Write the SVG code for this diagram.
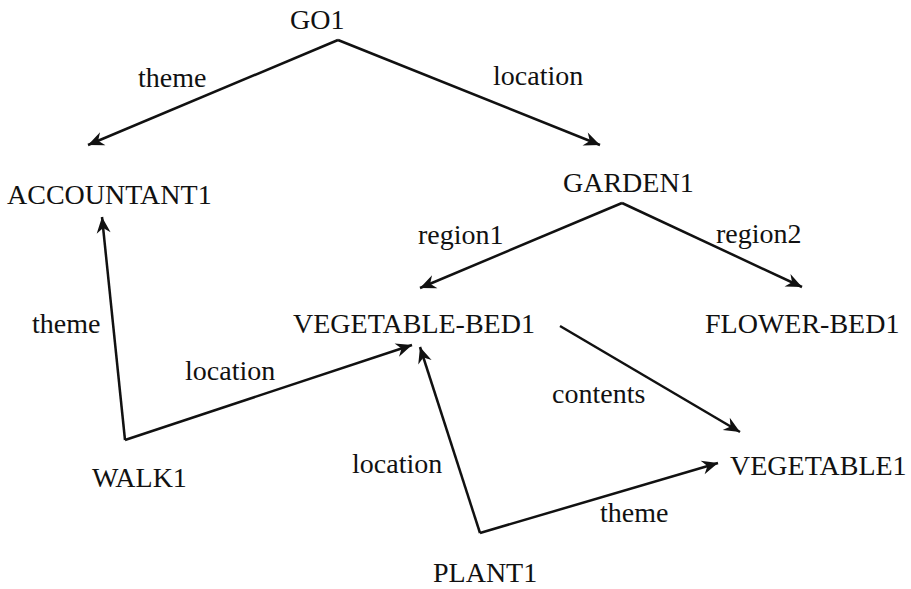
<svg xmlns="http://www.w3.org/2000/svg" width="911" height="589" viewBox="0 0 911 589">
<defs>
<style>
text{font-family:"Liberation Serif","Times New Roman",serif;font-size:28px;fill:#111}
.c{fill:none;stroke:#111;stroke-width:2.5;stroke-linejoin:miter}
</style>
<marker id="ah" viewBox="-17 -8 19 16" markerWidth="19" markerHeight="16" refX="0" refY="0" orient="auto" markerUnits="userSpaceOnUse">
<path d="M0,0 L-16,-7 L-11,0 L-16,7 Z" fill="#111"/>
</marker>
</defs>
<rect width="911" height="589" fill="#fff"/>
<g id="connectors">
<path class="c" d="M338,40 L88,145" marker-end="url(#ah)"/>
<path class="c" d="M338,40 L600,145" marker-end="url(#ah)"/>
<path class="c" d="M622,203 L420,288" marker-end="url(#ah)"/>
<path class="c" d="M622,203 L802,287" marker-end="url(#ah)"/>
<path class="c" d="M125,440 L102,217" marker-end="url(#ah)"/>
<path class="c" d="M125,440 L412,345" marker-end="url(#ah)"/>
<path class="c" d="M560,326 L740,432" marker-end="url(#ah)"/>
<path class="c" d="M480,533 L420,347" marker-end="url(#ah)"/>
<path class="c" d="M480,533 L718,463" marker-end="url(#ah)"/>
<text x="138" y="87">theme</text>
<text x="493" y="85">location</text>
<text x="418" y="244">region1</text>
<text x="716" y="243">region2</text>
<text x="32" y="333">theme</text>
<text x="185" y="380">location</text>
<text x="552" y="403">contents</text>
<text x="352" y="473">location</text>
<text x="600" y="522">theme</text>
</g>
<g id="GO1"><text x="290" y="29">GO1</text></g>
<g id="ACCOUNTANT1"><text x="7" y="204">ACCOUNTANT1</text></g>
<g id="GARDEN1"><text x="563" y="192">GARDEN1</text></g>
<g id="VEGETABLE-BED1"><text x="293" y="333">VEGETABLE-BED1</text></g>
<g id="FLOWER-BED1"><text x="705" y="333">FLOWER-BED1</text></g>
<g id="WALK1"><text x="92" y="487">WALK1</text></g>
<g id="VEGETABLE1"><text x="730" y="475">VEGETABLE1</text></g>
<g id="PLANT1"><text x="433" y="582">PLANT1</text></g>
</svg>
